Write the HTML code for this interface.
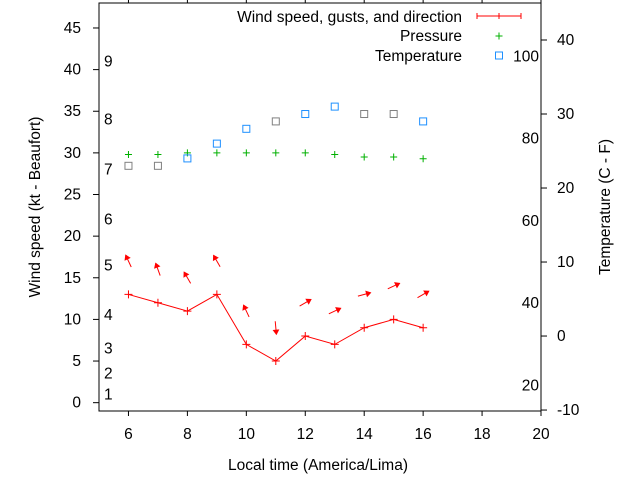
<!DOCTYPE html>
<html><head><meta charset="utf-8"><style>
body{margin:0;background:#fff}
svg text{font-family:"Liberation Sans",sans-serif;font-size:15.5px;fill:#000}
</style></head><body>
<svg id="c" width="640" height="480" xmlns="http://www.w3.org/2000/svg"></svg>
<script>
const hours=[6,7,8,9,10,11,12,13,14,15,16];
const windKt=[13,12,11,13,7,5,8,7,9,10,9];
const windDirDeg=[-25,-20,-30,-30,-25,175,60,65,75,65,60];
const pressure=[29.8,29.8,30,30,30,30,30,29.8,29.5,29.5,29.3];
const tempC=[23,23,24,26,28,29,30,31,30,30,29];
const tempColor=["#808080","#808080","#1e90ff","#1e90ff","#1e90ff","#808080","#1e90ff","#1e90ff","#808080","#808080","#1e90ff"];
const xTicks=[6,8,10,12,14,16,18,20];
const yTicks=[0,5,10,15,20,25,30,35,40,45];
const cTicks=[-10,0,10,20,30,40];
const fTicks=[20,40,60,80,100];
const beaufort=[[1,1],[2,3.5],[3,6.5],[4,10.5],[5,16.5],[6,22],[7,28],[8,34],[9,41]];

const L=99,R=541,T=3,B=411;
const X=v=>L+(v-5)*(R-L)/15;
const Y=v=>B-(v+1)*(B-T)/49;
const YC=c=>B-(c+10.13)*(B-T)/55.13;
const svg=document.getElementById('c');
const NS="http://www.w3.org/2000/svg";
function el(t,a,p){const e=document.createElementNS(NS,t);for(const k in a)e.setAttribute(k,a[k]);(p||svg).appendChild(e);return e;}
let e;
e=el('rect',{x:L,y:T,width:R-L,height:B-T,fill:'none',stroke:'#000','stroke-width':1});


xTicks.forEach(v=>{
  e=el('line',{x1:X(v),x2:X(v),y1:B,y2:B+5,stroke:'#000'});
  
  
  el('line',{x1:X(v),x2:X(v),y1:T,y2:T-4,stroke:'#000'});
  e=el('text',{x:X(v),y:B+28,'text-anchor':'middle'});e.textContent=v;
  
  
});
yTicks.forEach(v=>{
  e=el('line',{x1:L,x2:L-6,y1:Y(v),y2:Y(v),stroke:'#000'});
  
  
  e=el('text',{x:81,y:Y(v)+5,'text-anchor':'end'});e.textContent=v;
  
  
});
cTicks.forEach(v=>{
  e=el('line',{x1:R,x2:R+6,y1:YC(v),y2:YC(v),stroke:'#000'});
  
  
  e=el('text',{x:R+16,y:YC(v)+5});e.textContent=v;
  
  
});
fTicks.forEach(v=>{
  e=el('text',{x:R-2,y:YC((v-32)/1.8)+5,'text-anchor':'end'});e.textContent=v;
  
  
});
beaufort.forEach(b=>{
  e=el('text',{x:104,y:Y(b[1])+5});e.textContent=b[0];
  
  
});
e=el('polyline',{points:hours.map((h,i)=>X(h)+','+Y(windKt[i])).join(' '),fill:'none',stroke:'#f00','stroke-width':1});


function plus(x,y,c,s){return el('path',{d:`M${x-s} ${y}H${x+s}M${x} ${y-s}V${y+s}`,stroke:c,'stroke-width':1,fill:'none'});}
hours.forEach((h,i)=>{
  e=plus(X(h),Y(windKt[i]),'#f00',4);
  
  
  const a=windDirDeg[i]*Math.PI/180,cx=X(h),cy=Y(windKt[i]+4),len=6.5;
  const dx=Math.sin(a)*len,dy=-Math.cos(a)*len;
  const hx=cx+dx,hy=cy+dy;
  const g=el('g',{});
  
  
  el('line',{x1:cx-dx,y1:cy-dy,x2:hx,y2:hy,stroke:'#f00'},g);
  const ux=dx/len,uy=dy/len,px=-uy,py=ux;
  el('polygon',{points:`${hx},${hy} ${hx-ux*4+px*2.5},${hy-uy*4+py*2.5} ${hx-ux*4-px*2.5},${hy-uy*4-py*2.5}`,fill:'#f00',stroke:'#f00'},g);
  e=plus(X(h),Y(pressure[i]),'#00b000',3.5);
  
  
  e=el('rect',{x:X(h)-3.5,y:YC(tempC[i])-3.5,width:7,height:7,fill:'none',stroke:tempColor[i],'stroke-width':1});
  
  
});
const lg=el('g',{});


[["Wind speed, gusts, and direction",17],["Pressure",36],["Temperature",56]].forEach(t=>{
  e=el('text',{x:462,y:t[1]+5,'text-anchor':'end'},lg);e.textContent=t[0];
  
  
});
el('path',{d:'M477 16H521M477 13V19M521 13V19M499 13V19',stroke:'#f00',fill:'none'},lg);
e=plus(499,36,'#00b000',3.5);


el('rect',{x:495.5,y:52,width:7,height:7,fill:'none',stroke:'#1e90ff'},lg);
e=el('text',{x:318,y:470,'text-anchor':'middle'});e.textContent='Local time (America/Lima)';


e=el('text',{x:0,y:0,'text-anchor':'middle',transform:'translate(40,207) rotate(-90)'});e.textContent='Wind speed (kt - Beaufort)';


e=el('text',{x:0,y:0,'text-anchor':'middle',transform:'translate(610,207) rotate(-90)'});e.textContent='Temperature (C - F)';


</script>
</body></html>
